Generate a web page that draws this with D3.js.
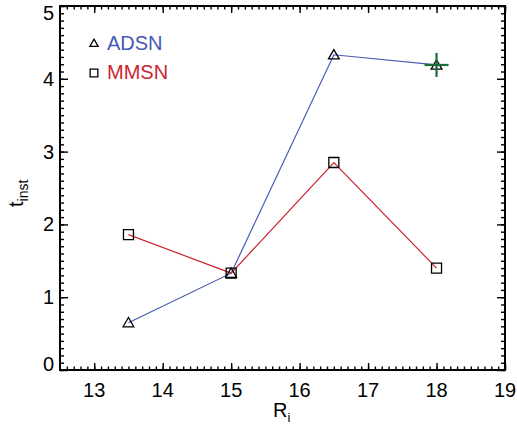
<!DOCTYPE html>
<html lang="en">
<head>
  <meta charset="UTF-8">
  <title>t_inst vs R_i</title>
  <script src="https://cdnjs.cloudflare.com/ajax/libs/d3/7.8.5/d3.min.js"></script>
  <style>
    body { margin: 0; background: #fff; }
    text { font-family: "Liberation Sans", Arial, sans-serif; }
  </style>
</head>
<body>
<script>
var W = 517, H = 429;
var margin = {top: 6, right: 12, bottom: 59, left: 60};

// data
var radii = [13.5, 15, 16.5, 18];
var adsn = [0.65, 1.33, 4.33, 4.19];
var mmsn = [1.86, 1.33, 2.85, 1.40];
var marked = {x: 18, y: 4.19};   // green cross
var xTicks = [13, 14, 15, 16, 17, 18, 19];
var yTicks = [0, 1, 2, 3, 4, 5];

var blue = "#4659b4", red = "#cc2631", green = "#1c6b3a";

var svg = d3.select("body").append("svg")
    .attr("width", W).attr("height", H);

var x = d3.scaleLinear().domain([12.5, 19]).range([margin.left, W - margin.right]);
var y = d3.scaleLinear().domain([0, 5]).range([H - margin.bottom, margin.top]);

var xMinor = d3.range(126, 191).map(function(d) { return d / 10; });
var yMinor = d3.range(0, 51).map(function(d) { return d / 10; });

function style(g) {
  g.select(".domain").remove();
  g.selectAll("line").attr("stroke", "#000").attr("stroke-width", 1.4);
  g.selectAll("text").remove();
}

// minor + major ticks on all four sides, pointing inward
[[d3.axisBottom, y.range()[0], x, xMinor, xTicks],
 [d3.axisTop, y.range()[1], x, xMinor, xTicks]].forEach(function(a) {
  svg.append("g").attr("transform", "translate(0," + a[1] + ")")
    .call(a[0](a[2]).tickValues(a[3]).tickSize(-3.5)).call(style);
  svg.append("g").attr("transform", "translate(0," + a[1] + ")")
    .call(a[0](a[2]).tickValues(a[4]).tickSize(-7)).call(style);
});
[[d3.axisLeft, x.range()[0]], [d3.axisRight, x.range()[1]]].forEach(function(a) {
  svg.append("g").attr("transform", "translate(" + a[1] + ",0)")
    .call(a[0](y).tickValues(yMinor).tickSize(-4)).call(style);
  svg.append("g").attr("transform", "translate(" + a[1] + ",0)")
    .call(a[0](y).tickValues(yTicks).tickSize(-8)).call(style);
});

svg.append("rect")
    .attr("x", x.range()[0]).attr("y", y.range()[1])
    .attr("width", x.range()[1] - x.range()[0])
    .attr("height", y.range()[0] - y.range()[1])
    .attr("fill", "none").attr("stroke", "#000").attr("stroke-width", 2);

// tick labels
svg.selectAll(".xl").data(xTicks).enter().append("text")
    .attr("x", function(d) { return x(d); })
    .attr("y", 397)
    .attr("text-anchor", "middle")
    .attr("font-size", 20)
    .text(function(d) { return d; });

svg.selectAll(".yl").data(yTicks).enter().append("text")
    .attr("x", 54)
    .attr("y", function(d) {
      var p = y(d);
      if (d === 5) p += 7;
      if (d === 0) p -= 6;
      return p;
    })
    .attr("dy", "0.35em")
    .attr("text-anchor", "end")
    .attr("font-size", 20)
    .text(function(d) { return d; });

// axis titles
var xt = svg.append("text").attr("x", 273).attr("y", 417).attr("font-size", 20);
xt.append("tspan").text("R");
xt.append("tspan").attr("font-size", 13).attr("dy", 5).text("i");

var yt = svg.append("text")
    .attr("transform", "translate(23,207) rotate(-90)")
    .attr("font-size", 20);
yt.append("tspan").text("t");
yt.append("tspan").attr("font-size", 14).attr("dy", 5).text("inst");

// lines
var line = d3.line()
    .x(function(d) { return x(d[0]); })
    .y(function(d) { return y(d[1]); });

svg.append("path").datum(d3.zip(radii, adsn))
    .attr("d", line).attr("fill", "none").attr("stroke", blue).attr("stroke-width", 1.2);
svg.append("path").datum(d3.zip(radii, mmsn))
    .attr("d", line).attr("fill", "none").attr("stroke", red).attr("stroke-width", 1.2);

// markers
var tri = d3.symbol().type(d3.symbolTriangle).size(50);
var sq = d3.symbol().type(d3.symbolSquare).size(100);

svg.selectAll(".tri").data(d3.zip(radii, adsn)).enter().append("path")
    .attr("d", tri)
    .attr("transform", function(d) { return "translate(" + x(d[0]) + "," + (y(d[1]) + 1) + ")"; })
    .attr("fill", "none").attr("stroke", "#000").attr("stroke-width", 1.3);

svg.selectAll(".sq").data(d3.zip(radii, mmsn)).enter().append("path")
    .attr("d", sq)
    .attr("transform", function(d) { return "translate(" + x(d[0]) + "," + y(d[1]) + ")"; })
    .attr("fill", "none").attr("stroke", "#000").attr("stroke-width", 1.3);

// green cross on last ADSN point
var gx = x(marked.x), gy = y(marked.y);
svg.append("line").attr("x1", gx - 12).attr("x2", gx + 12).attr("y1", gy).attr("y2", gy)
    .attr("stroke", green).attr("stroke-width", 2.2);
svg.append("line").attr("x1", gx).attr("x2", gx).attr("y1", gy - 12).attr("y2", gy + 12)
    .attr("stroke", green).attr("stroke-width", 2.2);

// legend
var legend = [{name: "ADSN", sym: tri, color: blue, y: 43},
              {name: "MMSN", sym: sq, color: red, y: 72}];
legend.forEach(function(l) {
  svg.append("path").attr("d", l.sym === tri ? d3.symbol().type(d3.symbolTriangle).size(30) : d3.symbol().type(d3.symbolSquare).size(60))
      .attr("transform", "translate(94," + (l.y + 1) + ")")
      .attr("fill", "none").attr("stroke", "#000").attr("stroke-width", 1.3);
  svg.append("text").attr("x", 107).attr("y", l.y + 7)
      .attr("font-size", 20).attr("fill", l.color).text(l.name);
});
</script>
</body>
</html>
